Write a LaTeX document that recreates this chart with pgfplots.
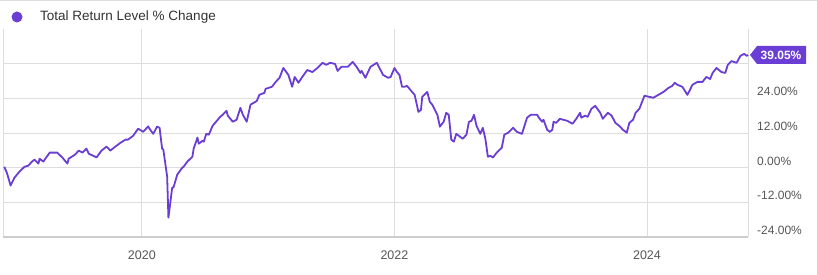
\documentclass[border=0pt]{standalone}
\usepackage{pgfplots}
\pgfplotsset{compat=1.18}
\usepackage{fontspec}
\setmainfont{Liberation Sans}
\definecolor{ret}{RGB}{106,62,212}
\definecolor{gridc}{RGB}{221,221,221}
\definecolor{basec}{RGB}{205,205,205}
\definecolor{tickc}{RGB}{85,85,85}
\begin{document}
\begin{tikzpicture}
\useasboundingbox (0,0) rectangle (817pt,275pt);
\draw[gridc, line width=0.8pt] (0,274.5pt) -- (817pt,274.5pt);
\fill[ret] (17pt,258pt) circle (5.5pt);
\node[anchor=west, inner sep=0pt, text=black!80, font=\fontsize{13.5}{15}\selectfont] at (40pt,258pt) {Total Return Level \% Change};
\begin{axis}[
  at={(3pt,38pt)}, anchor=south west,
  scale only axis, width=745pt, height=208pt,
  xmin=2018.9, xmax=2024.8, ymin=-24, ymax=48,
  axis line style={draw=none},
  clip=false,
  xtick={2020,2022,2024}, xticklabels={2020,2022,2024},
  ytick={-24,-12,0,12,24,36},
  yticklabels={-24.00\%,-12.00\%,0.00\%,12.00\%,24.00\%,{}},
  yticklabel pos=right,
  grid=major,
  major grid style={draw=gridc, line width=0.9pt},
  tick style={draw=none},
  xticklabel style={anchor=center, yshift=-18pt, inner sep=0pt, text=tickc, font=\fontsize{12.5}{14}\selectfont},
  yticklabel style={anchor=west, xshift=9pt, yshift=6.5pt, inner sep=0pt, text=tickc, font=\fontsize{12}{14}\selectfont},
]
\draw[gridc, line width=0.9pt] (rel axis cs:0,0) -- (rel axis cs:0,1);
\draw[gridc, line width=0.9pt] (rel axis cs:1,0) -- (rel axis cs:1,1);
\draw[basec, line width=1.8pt] (rel axis cs:0,0) -- (rel axis cs:1,0);
\addplot[ret, line width=1.8pt, line join=round, mark=none] coordinates {
(2018.91,0.3) (2018.93,-1.7) (2018.94,-3.1) (2018.96,-6.2) (2018.99,-3.5)
(2019.03,-1.4) (2019.07,0.3) (2019.10,0.7) (2019.13,2.1) (2019.15,2.8)
(2019.18,1.4) (2019.19,3.1) (2019.22,2.1) (2019.23,2.8) (2019.27,5.2)
(2019.33,5.2) (2019.37,3.5) (2019.41,1.4) (2019.42,3.1) (2019.47,4.5)
(2019.50,5.9) (2019.53,5.2) (2019.56,6.6) (2019.58,4.8) (2019.63,3.8)
(2019.64,3.5) (2019.68,5.9) (2019.72,7.3) (2019.75,5.9) (2019.79,7.3)
(2019.83,8.6) (2019.87,9.7) (2019.89,9.7) (2019.93,11.0) (2019.97,13.5)
(2020.01,12.4) (2020.05,14.3) (2020.06,13.5) (2020.09,11.7) (2020.12,14.2)
(2020.14,13.8) (2020.16,6.6) (2020.17,6.2) (2020.20,-3.1) (2020.21,-17.3)
(2020.24,-6.9) (2020.25,-6.9) (2020.28,-2.4) (2020.32,0.0) (2020.33,0.3)
(2020.36,2.1) (2020.40,3.8) (2020.41,6.6) (2020.44,10.4) (2020.45,8.3)
(2020.48,9.3) (2020.49,9.0) (2020.51,11.7) (2020.53,11.4) (2020.56,14.5)
(2020.62,17.6) (2020.64,18.3) (2020.67,19.7) (2020.68,18.0) (2020.72,15.9)
(2020.75,16.6) (2020.78,20.7) (2020.80,18.3) (2020.83,15.9) (2020.86,21.8)
(2020.91,23.1) (2020.93,25.2) (2020.97,25.9) (2020.98,27.3) (2021.03,28.0)
(2021.06,29.7) (2021.09,31.1) (2021.12,34.5) (2021.16,32.1) (2021.19,28.0)
(2021.21,31.4) (2021.24,29.4) (2021.27,31.4) (2021.31,33.8) (2021.35,33.1)
(2021.39,34.5) (2021.43,36.3) (2021.46,35.6) (2021.49,36.3) (2021.53,35.9)
(2021.55,33.5) (2021.58,34.9) (2021.63,34.9) (2021.67,36.6) (2021.70,34.9)
(2021.73,32.8) (2021.74,33.5) (2021.77,31.1) (2021.81,34.9) (2021.86,36.3)
(2021.91,32.1) (2021.95,31.1) (2021.97,31.4) (2022.00,34.5) (2022.02,33.1)
(2022.04,32.1) (2022.06,28.0) (2022.08,28.0) (2022.10,28.3) (2022.14,26.2)
(2022.16,25.2) (2022.19,19.3) (2022.21,20.0) (2022.22,24.5) (2022.26,26.2)
(2022.28,22.8) (2022.30,21.8) (2022.34,18.3) (2022.36,14.2) (2022.39,15.9)
(2022.41,19.0) (2022.43,18.3) (2022.45,9.7) (2022.47,9.0) (2022.49,11.7)
(2022.52,10.7) (2022.54,10.0) (2022.57,11.4) (2022.59,15.9) (2022.61,16.2)
(2022.63,18.3) (2022.65,14.5) (2022.68,11.7) (2022.70,13.8) (2022.72,10.0)
(2022.74,3.8) (2022.76,4.1) (2022.78,3.5) (2022.81,5.2) (2022.85,6.9)
(2022.87,11.4) (2022.90,12.1) (2022.94,13.8) (2022.97,12.4) (2023.01,11.7)
(2023.05,17.3) (2023.08,18.3) (2023.13,18.3) (2023.15,16.9) (2023.17,15.9)
(2023.18,16.6) (2023.21,13.1) (2023.23,12.4) (2023.25,13.1) (2023.26,15.9)
(2023.28,15.5) (2023.31,16.9) (2023.37,16.2) (2023.41,15.2) (2023.44,16.9)
(2023.47,19.0) (2023.48,17.3) (2023.51,18.0) (2023.53,17.6) (2023.56,20.4)
(2023.59,21.4) (2023.63,19.0) (2023.65,16.9) (2023.69,19.0) (2023.72,18.0)
(2023.75,15.5) (2023.78,14.5) (2023.81,13.1) (2023.84,12.1) (2023.86,15.5)
(2023.89,16.6) (2023.91,19.0) (2023.94,20.4) (2023.98,24.9) (2024.02,24.5)
(2024.05,24.2) (2024.09,25.2) (2024.13,26.2) (2024.17,27.6) (2024.20,28.3)
(2024.22,29.4) (2024.24,28.7) (2024.28,28.0) (2024.32,25.2) (2024.34,26.9)
(2024.36,28.7) (2024.40,29.7) (2024.44,29.7) (2024.47,31.4) (2024.50,30.7)
(2024.52,32.8) (2024.55,34.5) (2024.59,33.1) (2024.62,32.8) (2024.64,35.6)
(2024.67,36.9) (2024.71,36.3) (2024.74,38.7) (2024.77,39.4) (2024.79,38.7)
(2024.80,39.05)
};
\end{axis}
\fill[ret] (750pt,220pt) -- (757pt,229pt) -- (806pt,229pt) -- (806pt,211pt) -- (757pt,211pt) -- cycle;
\node[text=white, inner sep=0pt, font=\bfseries\fontsize{12}{14}\selectfont] at (781pt,220pt) {39.05\%};
\end{tikzpicture}
\end{document}
